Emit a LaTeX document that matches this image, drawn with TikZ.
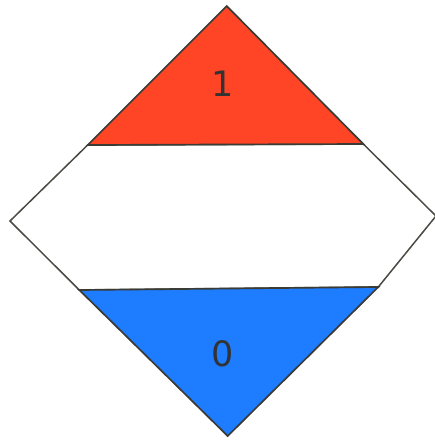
\documentclass[tikz,border=0pt]{standalone}
\usepackage{fontspec}
\setmainfont{DejaVu Sans}
\usepackage{xcolor}
\definecolor{TopRed}   {HTML}{FF4526}
\definecolor{BotBlue}  {HTML}{1E7CFF}
\definecolor{EdgeGray} {HTML}{4A4A44}
\definecolor{TxtGray}  {HTML}{333333}
\tikzset{
  every node/.style={font=\fontsize{35}{40}\selectfont, text=TxtGray},
  % diamond parts
  band/.style   ={fill=white, draw=EdgeGray, line width=1.5pt, line join=miter},
  redpart/.style={fill=TopRed,  draw=EdgeGray!80!black, line width=1.7pt},
  bluepart/.style={fill=BotBlue, draw=EdgeGray!80!black, line width=1.7pt},
}
\begin{document}
\begin{tikzpicture}[x=1pt, y=-1pt]
\useasboundingbox (0,0) rectangle (435,440);

% corners of the placard
\coordinate (top)    at (226.7,6);
\coordinate (left)   at (10,221);
\coordinate (right)  at (436,216);
\coordinate (bottom) at (227.7,436);
\coordinate (rl) at (87.7,145);
\coordinate (rr) at (363.3,144);
\coordinate (bl) at (79.3,290);
\coordinate (br) at (378.3,287);

% middle band
\draw[band] (rl) -- (rr) -- (right) -- (br) -- (bl) -- (left) -- cycle;

% top and bottom triangles
\draw[redpart]  (top) -- (rr) -- (rl) -- cycle;
\draw[bluepart] (bl) -- (br) -- (bottom) -- cycle;

\node (one)  at (223,84)  {1};
\node (zero) at (223,354) {0};

\end{tikzpicture}
\end{document}
